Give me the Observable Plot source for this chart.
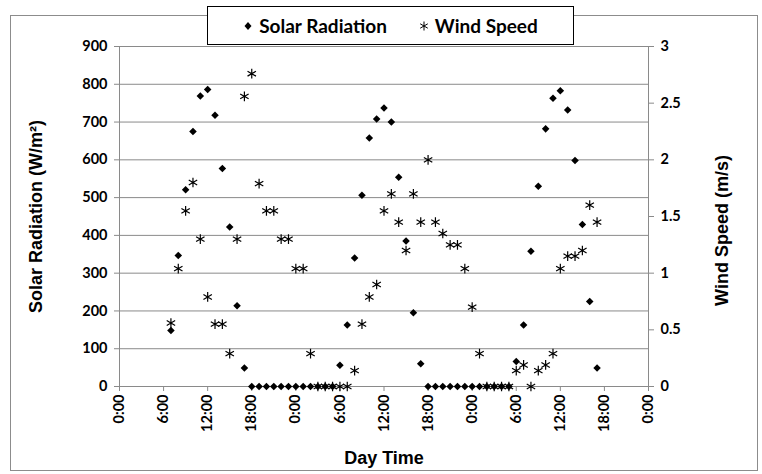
<!DOCTYPE html>
<html>
<head>
<meta charset="utf-8">
<script src="https://cdn.jsdelivr.net/npm/d3@7"></script>
<script src="https://cdn.jsdelivr.net/npm/@observablehq/plot@0.6"></script>
<style>
  body { margin: 0; background: #fff; }
  #wrap { position: relative; width: 762px; height: 474px; overflow: hidden; background: #fff; }
  #border { position: absolute; left: 10px; top: 15px; width: 746px; height: 454px; border: 1px solid #8c8c8c; pointer-events: none; }
  #legend { position: absolute; left: 207px; top: 6px; width: 365px; height: 37px; border: 1.5px solid #000; background: #fff;
            display: flex; align-items: center; justify-content: center; gap: 32px;
            font-family: Lato, "Liberation Sans", sans-serif; font-weight: bold; font-size: 19px; color: #000; }
  .item { display: flex; align-items: center; gap: 6px; }
</style>
</head>
<body>
<div id="wrap">
  <div id="chart"></div>
  <div id="border"></div>
  <div id="legend">
    <div class="item"><svg width="10" height="12"><path d="M5,2 L8.5,6 L5,10 L1.5,6 Z" fill="#000"/></svg><span>Solar Radiation</span></div>
    <div class="item"><svg width="10" height="12"><path d="M5,1.5 V10.5 M1.2,3.8 L8.8,8.2 M1.2,8.2 L8.8,3.8" stroke="#000" stroke-width="1" fill="none"/></svg><span>Wind Speed</span></div>
  </div>
</div>
<script>
// Hour of the measurement (hours since first midnight)
const hours = d3.range(7, 66);
// Solar radiation (W/m²), one per hour
const solar = [148, 347, 521, 675, 769, 786, 718, 577, 422, 214, 49,
  0, 0, 0, 0, 0, 0, 0, 0, 0, 0, 0, 0,
  56, 163, 340, 506, 658, 708, 737, 700, 554, 385, 195, 60,
  0, 0, 0, 0, 0, 0, 0, 0, 0, 0, 0, 0,
  66, 163, 358, 530, 682, 763, 783, 732, 598, 429, 225, 49];
// Wind speed (m/s), one per hour
const wind = [0.56, 1.04, 1.55, 1.80, 1.30, 0.79, 0.55, 0.55, 0.29, 1.30, 2.56, 2.76, 1.79, 1.55, 1.55, 1.30, 1.30, 1.04, 1.04, 0.29,
  0, 0, 0, 0, 0,
  0.14, 0.55, 0.79, 0.90, 1.55, 1.70, 1.45, 1.20, 1.70, 1.45, 2.00, 1.45, 1.35, 1.25, 1.25, 1.04, 0.70, 0.29,
  0, 0, 0, 0,
  0.14, 0.19, 0, 0.14, 0.19, 0.29, 1.04, 1.15, 1.15, 1.20, 1.60, 1.45];
// Axis ticks
const xTicks = [0, 6, 12, 18, 24, 30, 36, 42, 48, 54, 60, 66, 72];
const leftTicks = [0, 100, 200, 300, 400, 500, 600, 700, 800, 900];
const rightTicks = [0, 0.5, 1, 1.5, 2, 2.5, 3];
const ratio = 900 / 3; // secondary axis: 3 m/s spans the same height as 900 W/m²

const solarRows = hours.map((h, i) => ({h, v: solar[i]}));
const windRows = hours.map((h, i) => ({h, v: wind[i]}));

const grey = "#8a8a8a";
const tickFont = "Lato, 'Liberation Sans', sans-serif";
const titleFont = "'Liberation Sans', Arial, sans-serif";
const titleStyle = {fontSize: 18, fontFamily: titleFont, fontWeight: "bold", textAnchor: "middle", lineAnchor: "middle"};

const chart = Plot.plot({
  width: 762, height: 474,
  marginLeft: 119, marginRight: 114, marginTop: 46, marginBottom: 88,
  style: {background: "transparent", fontFamily: tickFont, fontSize: "14.5px", fontWeight: "bold", color: "#000"},
  x: {domain: [0, 72]},
  y: {domain: [0, 900]},
  marks: [
    Plot.gridY(leftTicks, {stroke: grey, strokeOpacity: 1}),
    Plot.ruleX([0, 72], {stroke: grey}),
    Plot.ruleY([0], {stroke: grey}),
    Plot.axisY({ticks: leftTicks, tickSize: 5, tickPadding: 7, stroke: grey, label: null}),
    Plot.axisY({anchor: "right", ticks: rightTicks.map(d => d * ratio), tickFormat: d => String(d / ratio), tickSize: 5, tickPadding: 7, stroke: grey, label: null}),
    Plot.axisX({ticks: xTicks, tickFormat: d => `${d % 24}:00`, tickRotate: -90, tickSize: 5, tickPadding: 3, stroke: grey, label: null}),
    Plot.dot(solarRows, {x: "h", y: "v", symbol: "diamond2", r: 3.4, fill: "#000", stroke: null}),
    Plot.dot(windRows, {x: "h", y: d => d.v * ratio, symbol: "asterisk", r: 4.6, stroke: "#000", strokeWidth: 1.2}),
    Plot.text(["Solar Radiation (W/m²)"], {frameAnchor: "left", dx: -83, rotate: -90, ...titleStyle}),
    Plot.text(["Wind Speed (m/s)"], {frameAnchor: "right", dx: 74, dy: 14, rotate: -90, ...titleStyle}),
    Plot.text(["Day Time"], {frameAnchor: "bottom", dy: 72, ...titleStyle})
  ]
});
document.getElementById("chart").appendChild(chart);
</script>
</body>
</html>
